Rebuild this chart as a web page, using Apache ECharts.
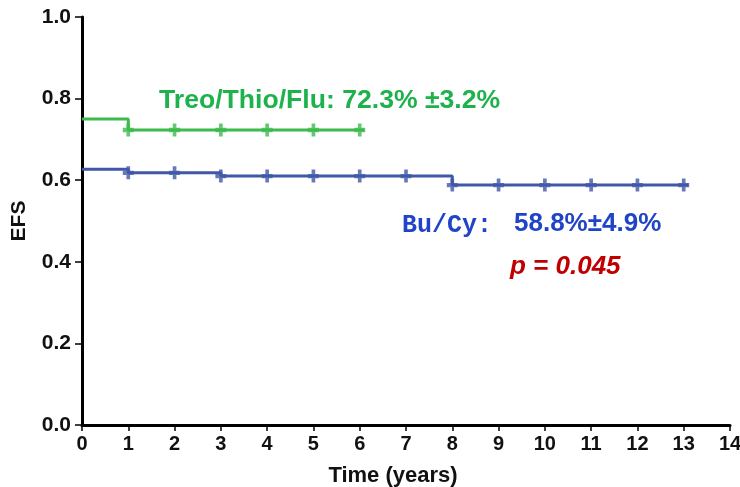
<!DOCTYPE html>
<html>
<head>
<meta charset="utf-8">
<script src="https://cdn.jsdelivr.net/npm/echarts@6/dist/echarts.min.js"></script>
<style>
  html, body { margin: 0; padding: 0; background: #fff; }
  #chart { width: 740px; height: 487px; }
</style>
</head>
<body>
<div id="chart"></div>
<script>
// Kaplan-Meier step curves: [time in years, event-free survival]
const treoSteps = [[0, 0.75], [1, 0.723], [6.1, 0.723]];
const treoCensored = [[1, 0.723], [2, 0.723], [3, 0.723], [4, 0.723], [5, 0.723], [6, 0.723]];

const buCySteps = [[0, 0.627], [1, 0.618], [3, 0.610], [8, 0.588], [13.1, 0.588]];
const buCyCensored = [
  [1, 0.618], [2, 0.618], [3, 0.610], [4, 0.610], [5, 0.610], [6, 0.610], [7, 0.610],
  [8, 0.588], [9, 0.588], [10, 0.588], [11, 0.588], [12, 0.588], [13, 0.588]
];

const xTicks = [0, 1, 2, 3, 4, 5, 6, 7, 8, 9, 10, 11, 12, 13, 14];
const yTicks = [0, 0.2, 0.4, 0.6, 0.8, 1.0];

const treoLabel = 'Treo/Thio/Flu: 72.3% \u00b13.2%';
const buCyName = 'Bu/Cy:';
const buCyValue = '58.8%\u00b14.9%';
const pValue = 'p = 0.045';

const GREEN = '#3cba4c';
const BLUE = '#4158a8';
// thick "+" used for censored observations
const plusSymbol = 'path://M4,0h4v4h4v4h-4v4h-4v-4h-4v-4h4z';

const FONT = 'Arial, "Liberation Sans", sans-serif';
const chart = echarts.init(document.getElementById('chart'));

chart.setOption({
  animation: false,
  grid: { left: 82, right: 10, top: 17, bottom: 62, containLabel: false, outerBoundsMode: 'none' },
  xAxis: {
    type: 'value', min: xTicks[0], max: xTicks[xTicks.length - 1], interval: 1,
    axisLine: { lineStyle: { color: '#000', width: 3 } },
    axisTick: { show: true, length: 6, lineStyle: { color: '#000', width: 1.5 } },
    axisLabel: { margin: 9, fontFamily: FONT, fontWeight: 'bold', fontSize: 20, color: '#111' },
    splitLine: { show: false },
    name: 'Time (years)', nameLocation: 'middle', nameGap: 40,
    nameTextStyle: { fontFamily: FONT, fontWeight: 'bold', fontSize: 22, color: '#111', padding: [0, 26, 0, 0] }
  },
  yAxis: {
    type: 'value', min: yTicks[0], max: yTicks[yTicks.length - 1], interval: 0.2,
    axisLine: { show: true, lineStyle: { color: '#000', width: 3 } },
    axisTick: { show: true, length: 7, lineStyle: { color: '#000', width: 1.5 } },
    axisLabel: { margin: 11, fontFamily: FONT, fontWeight: 'bold', fontSize: 21, color: '#111', formatter: v => v.toFixed(1) },
    splitLine: { show: false },
    name: 'EFS', nameLocation: 'middle', nameGap: 52, nameRotate: 90,
    nameTextStyle: { fontFamily: FONT, fontWeight: 'bold', fontSize: 21, color: '#111' }
  },
  series: [
    {
      type: 'line', step: 'end', data: treoSteps, showSymbol: false,
      lineStyle: { color: GREEN, width: 3 }, z: 3
    },
    {
      type: 'scatter', data: treoCensored, symbol: plusSymbol, symbolSize: [11, 13],
      itemStyle: { color: GREEN }, z: 4
    },
    {
      type: 'line', step: 'end', data: buCySteps, showSymbol: false,
      lineStyle: { color: BLUE, width: 3 }, z: 3
    },
    {
      type: 'scatter', data: buCyCensored, symbol: plusSymbol, symbolSize: [11, 13],
      itemStyle: { color: BLUE }, z: 4
    }
  ],
  graphic: [
    {
      type: 'text', left: 159, top: 87,
      style: { text: treoLabel, fill: '#1db24b', font: 'bold 26.6px ' + FONT }
    },
    {
      type: 'text', left: 402, top: 213,
      style: { text: buCyName, fill: '#1f44c8', font: 'bold 25px "Liberation Mono", "Courier New", monospace' }
    },
    {
      type: 'text', left: 514, top: 211,
      style: { text: buCyValue, fill: '#1f44c8', font: 'bold 26px ' + FONT }
    },
    {
      type: 'text', left: 510, top: 254,
      style: { text: pValue, fill: '#c00000', font: 'italic bold 26px ' + FONT }
    }
  ]
});
</script>
</body>
</html>
